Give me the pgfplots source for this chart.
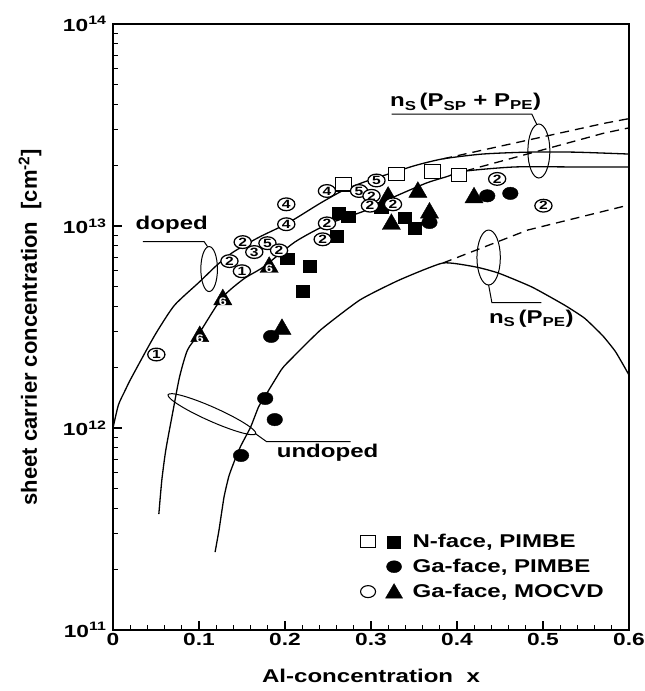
\documentclass[border=0pt]{standalone}
\usepackage{fontspec}
\setmainfont{Liberation Sans}[FakeStretch=1.3]
\newfontfamily\ylabfont{Liberation Sans}
\usepackage{pgfplots}
\pgfplotsset{compat=1.18}
\begin{document}
\begin{tikzpicture}[font=\fontsize{18.5}{22}\selectfont\bfseries]
\begin{axis}[
  scale only axis, width=516pt, height=606pt,
  xmin=0, xmax=0.6, ymode=log, ymin=1e11, ymax=1e14,
  xtick={0,0.1,0.2,0.3,0.4,0.5,0.6},
  xticklabels={0,0.1,0.2,0.3,0.4,0.5,0.6},
  minor x tick num=4,
  ytick={1e11,1e12,1e13,1e14},
  yticklabels={10\textsuperscript{11},10\textsuperscript{12},10\textsuperscript{13},10\textsuperscript{14}},
  minor ytick={2e11,3e11,4e11,5e11,6e11,7e11,8e11,9e11,2e12,3e12,4e12,5e12,6e12,7e12,8e12,9e12,2e13,3e13,4e13,5e13,6e13,7e13,8e13,9e13},
  tick pos=left, tick align=inside,
  major tick length=9pt, minor tick length=5pt,
  every tick/.style={black, line width=1.2pt},
  axis line style={line width=1.5pt},
  ticklabel style={font=\fontsize{17.5}{20}\selectfont\bfseries},
  yticklabel style={xshift=-3pt},
  xlabel={Al-concentration\ \ x},
  ylabel={\fontsize{22}{24}\ylabfont\bfseries sheet carrier concentration\ \ [cm\textsuperscript{-2}]},
  every axis x label/.style={at={(axis description cs:0.5,-0.0759)}, anchor=center},
  every axis y label/.style={at={(axis description cs:-0.1608,0.5)}, anchor=center, rotate=90},
  legend style={at={(axis cs:0.287,3.05e11)}, anchor=north west, draw=none, fill=none, inner sep=0pt, row sep=6pt, nodes={inner sep=2pt}},
  legend cell align=left,
]
\coordinate (SW) at (rel axis cs:0,0);
% curves
\addplot[forget plot, black, line width=1.3pt, smooth, tension=0.4] coordinates {
(0,1.0e12) (0.0063,1.30e12) (0.0143,1.54e12) (0.0201,1.73e12) (0.0396,2.46e12) (0.0522,3.05e12) (0.0717,4.06e12) (0.1004,5.28e12) (0.1210,6.41e12) (0.1382,7.35e12) (0.1577,8.24e12) (0.1726,8.92e12) (0.2036,1.035e13) (0.2415,1.30e13) (0.2690,1.51e13) (0.2954,1.67e13) (0.3275,1.85e13) (0.3528,2.00e13) (0.3838,2.15e13) (0.4296,2.27e13) (0.4824,2.32e13) (0.5363,2.32e13) (0.6,2.27e13)};
\addplot[forget plot, black, line width=1.3pt, smooth, tension=0.4] coordinates {
(0.0533,3.75e11) (0.0568,5.53e11) (0.0614,7.78e11) (0.0694,1.19e12) (0.0774,1.79e12) (0.0866,2.43e12) (0.1004,2.95e12) (0.1268,4.41e12) (0.1520,5.47e12) (0.1750,6.27e12) (0.2117,8.34e12) (0.2496,1.02e13) (0.2954,1.20e13) (0.3264,1.39e13) (0.3642,1.63e13) (0.3872,1.75e13) (0.4101,1.87e13) (0.4675,1.96e13) (0.5363,1.96e13) (0.6,1.96e13)};
\addplot[forget plot, black, line width=1.3pt, smooth, tension=0.3] coordinates {
(0.1187,2.43e11) (0.1233,3.13e11) (0.1291,4.55e11) (0.1348,5.78e11) (0.1417,6.95e11) (0.1486,8.15e11) (0.1600,1.01e12) (0.1692,1.27e12) (0.1761,1.42e12) (0.1956,1.94e12) (0.2036,2.12e12) (0.2415,3.06e12) (0.2874,4.31e12) (0.3333,5.41e12) (0.3838,6.56e12) (0.4216,6.27e12) (0.4480,5.85e12) (0.4870,4.99e12) (0.5249,4.06e12) (0.5478,3.51e12) (0.5627,3.06e12) (0.5708,2.82e12) (0.5845,2.38e12) (0.6,1.83e12)};
% dashed
\addplot[forget plot, black, line width=1.3pt, dash pattern=on 9pt off 6pt] coordinates {(0.3838,6.56e12) (0.4824,9.55e12) (0.6,1.27e13)};
\addplot[forget plot, black, line width=1.3pt, dash pattern=on 9pt off 6pt] coordinates {(0.3838,2.15e13) (0.5707,3.22e13) (0.6,3.40e13)};
\addplot[forget plot, black, line width=1.3pt, dash pattern=on 9pt off 6pt] coordinates {(0.3929,1.79e13) (0.5707,2.88e13) (0.6,3.06e13)};
% filled squares (N-face, PIMBE)
\addplot[forget plot, only marks, mark=square*, mark size=6.8pt, mark options={fill=black, draw=black, yscale=0.85}] coordinates {
(0.2623,1.16e13) (0.2738,1.11e13) (0.2603,8.91e12) (0.2026,6.90e12) (0.2288,6.33e12) (0.2207,4.75e12) (0.3391,1.10e13) (0.3507,9.75e12) (0.3118,1.23e13)};
% filled circles (Ga-face, PIMBE)
\addplot[forget plot, only marks, mark=*, mark size=7.8pt, mark options={fill=black, draw=black, yscale=0.8}] coordinates {
(0.1839,2.84e12) (0.177,1.40e12) (0.1881,1.10e12) (0.1489,7.31e11) (0.368,1.04e13) (0.4352,1.41e13) (0.462,1.45e13)};
% filled triangles (Ga-face, MOCVD)
\addplot[forget plot, only marks, mark=triangle*, mark size=10.5pt, mark options={fill=black, draw=black}] coordinates {
(0.3199,1.39e13) (0.3237,1.02e13) (0.3545,1.47e13) (0.368,1.16e13) (0.4198,1.38e13) (0.1965,3.08e12)};
% open squares (N-face, PIMBE)
\addplot[forget plot, only marks, mark=square*, mark size=7.8pt, mark options={fill=white, draw=black, line width=1.1pt, yscale=0.87}] coordinates {
(0.268,1.61e13) (0.3294,1.81e13) (0.3718,1.86e13) (0.4025,1.79e13)};
% numbered triangles
\addplot[forget plot, only marks, mark=triangle*, mark size=10.5pt, mark options={fill=black, draw=black},
  nodes near coords, point meta=explicit symbolic, nodes near coords align={anchor=center},
  every node near coord/.append style={font=\fontsize{11}{11}\selectfont\bfseries, text=white, inner sep=0pt, yshift=-2pt}]
  table[meta=m, row sep=\\] {x y m\\ 0.1816 6.25e12 6\\ 0.1277 4.32e12 6\\ 0.1009 2.84e12 6\\};
% numbered open circles (Ga-face, MOCVD)
\addplot[forget plot, only marks, mark=*, mark size=8.6pt, mark options={fill=white, draw=black, line width=1.25pt, yscale=0.74},
  nodes near coords, point meta=explicit symbolic, nodes near coords align={anchor=center},
  every node near coord/.append style={font=\fontsize{12}{12}\selectfont\bfseries, inner sep=0pt}]
  table[meta=m, row sep=\\] {x y m\\
  0.0504 2.31e12 1\\ 0.1499 5.97e12 1\\
  0.1354 6.70e12 2\\ 0.1508 8.32e12 2\\ 0.1643 7.43e12 3\\ 0.1796 8.22e12 5\\ 0.1931 7.57e12 2\\
  0.2015 1.28e13 4\\ 0.2015 1.02e13 4\\ 0.2488 1.03e13 2\\ 0.2438 8.59e12 2\\ 0.2488 1.49e13 4\\
  0.2861 1.49e13 5\\ 0.3064 1.68e13 5\\ 0.3006 1.41e13 2\\ 0.2988 1.26e13 2\\ 0.3256 1.28e13 2\\
  0.4467 1.71e13 2\\ 0.5005 1.26e13 2\\};
% annotations
\draw[line width=1pt] (axis cs:0.4952,2.35e13) ellipse [x radius=11pt, y radius=27pt];
\draw[line width=1pt] (axis cs:0.324,3.58e13) -- (axis cs:0.487,3.58e13) -- (axis cs:0.4925,3.2e13);
\node[anchor=south west, inner sep=0pt] at (axis cs:0.322,3.71e13) {n\textsubscript{S}\,(P\textsubscript{SP} + P\textsubscript{PE})};
\draw[line width=1pt] (axis cs:0.1118,6.12e12) ellipse [x radius=8.3pt, y radius=22.5pt];
\draw[line width=1pt] (axis cs:0.0346,8.36e12) -- (axis cs:0.106,8.36e12) -- (axis cs:0.110,7.9e12);
\node[anchor=center, inner sep=0pt] at (axis cs:0.0683,1.01e13) {doped};
\draw[line width=1pt, rotate around={-24:(axis cs:0.115,1.17e12)}] (axis cs:0.115,1.17e12) ellipse [x radius=48pt, y radius=7pt];
\draw[line width=1pt] (axis cs:0.1652,9.40e11) -- (axis cs:0.1787,8.55e11) -- (axis cs:0.2762,8.55e11);
\node[anchor=center, inner sep=0pt] at (axis cs:0.2495,7.52e11) {undoped};
\draw[line width=1pt] (axis cs:0.4368,6.98e12) ellipse [x radius=11.7pt, y radius=27.5pt];
\draw[line width=1pt] (axis cs:0.4368,5.1e12) -- (axis cs:0.4406,4.17e12) -- (axis cs:0.498,4.17e12);
\node[anchor=north west, inner sep=0pt] at (axis cs:0.437,3.84e12) {n\textsubscript{S}\,(P\textsubscript{PE})};
% legend
\addlegendimage{legend image code/.code={
  \path[draw=none, fill=none] (0pt,-7pt) rectangle (50pt,7pt);
  \draw[black, line width=1.1pt, fill=white] (0pt,-6pt) rectangle (15pt,6pt);
  \fill[black] (27pt,-6pt) rectangle (40pt,6pt);}}
\addlegendentry{N-face, PIMBE}
\addlegendimage{legend image code/.code={
  \path[draw=none, fill=none] (0pt,-7pt) rectangle (50pt,7pt);
  \fill[black] (33.5pt,0pt) ellipse [x radius=7.5pt, y radius=6pt];}}
\addlegendentry{Ga-face, PIMBE}
\addlegendimage{legend image code/.code={
  \path[draw=none, fill=none] (0pt,-7pt) rectangle (50pt,7pt);
  \draw[black, line width=1.1pt, fill=white] (7.5pt,0pt) ellipse [x radius=7.5pt, y radius=6pt];
  \fill[black] (25pt,-6.5pt) -- (42pt,-6.5pt) -- (33.5pt,8pt) -- cycle;}}
\addlegendentry{Ga-face, MOCVD}
\end{axis}
\pgfresetboundingbox
\path ([shift={(-113pt,-61pt)}]SW) rectangle ([shift={(532pt,630pt)}]SW);
\end{tikzpicture}
\end{document}
